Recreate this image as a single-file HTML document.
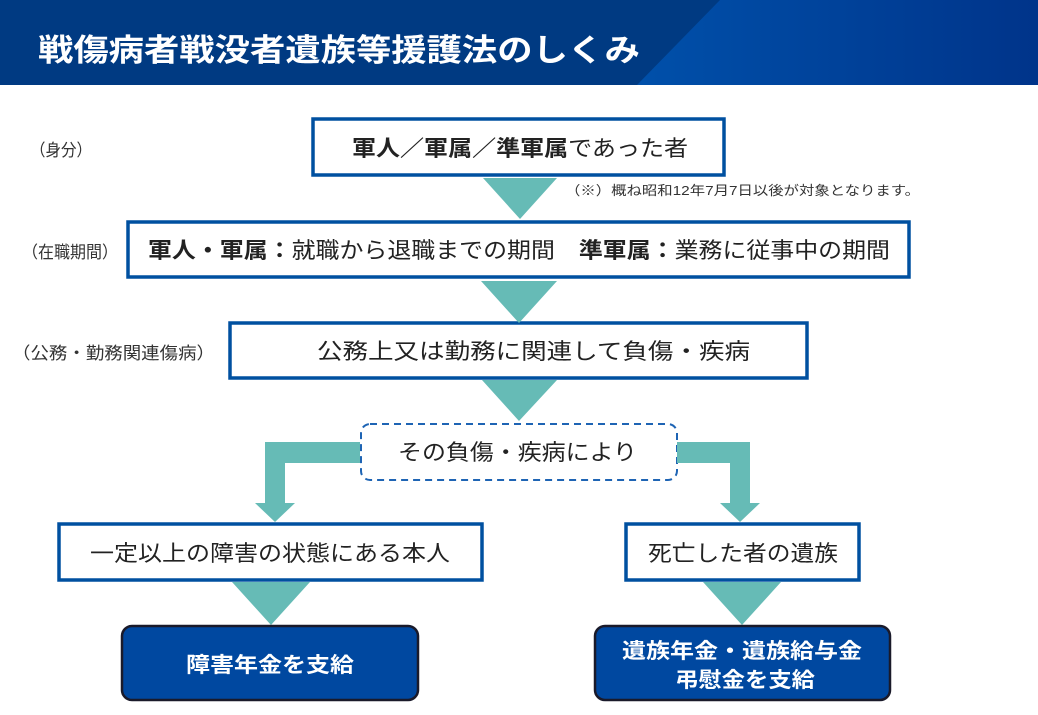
<!DOCTYPE html>
<html><head><meta charset="utf-8"><style>
html,body{margin:0;padding:0;background:#fff;}
svg{display:block;}
text{font-family:"Liberation Sans","Noto Sans CJK JP",sans-serif;}
</style></head><body>
<svg width="1038" height="715" viewBox="0 0 1038 715" xmlns="http://www.w3.org/2000/svg">
<defs>
<linearGradient id="g2" x1="0" y1="0" x2="1" y2="0">
<stop offset="0" stop-color="#0050aa"/><stop offset="1" stop-color="#00348a"/>
</linearGradient>
</defs>
<rect x="0" y="0" width="1038" height="85" fill="#003a82"/>
<polygon points="720,0 1038,0 1038,85 637,85" fill="url(#g2)"/>
<text x="38" y="61" font-size="31" font-weight="bold" fill="#fff" textLength="602" lengthAdjust="spacingAndGlyphs">戦傷病者戦没者遺族等援護法のしくみ</text>

<g font-size="17" fill="#333">
<text x="30" y="156" textLength="62" lengthAdjust="spacingAndGlyphs">（身分）</text>
<text x="22" y="258" textLength="96" lengthAdjust="spacingAndGlyphs">（在職期間）</text>
<text x="12" y="359" textLength="203" lengthAdjust="spacingAndGlyphs">（公務・勤務関連傷病）</text>
</g>

<g fill="#fff" stroke="#0050a0" stroke-width="3.5">
<rect x="313" y="119" width="411" height="56"/>
<rect x="128" y="222" width="781" height="55"/>
<rect x="230" y="323" width="577" height="55"/>
<rect x="59" y="524" width="423" height="56"/>
<rect x="626" y="524" width="233" height="56"/>
</g>
<rect x="361" y="424" width="316" height="56" rx="9" fill="#fff" stroke="#1e64b4" stroke-width="2" stroke-dasharray="7,5"/>

<g fill="#66bbb6">
<polygon points="483,178 557,178 520,219"/>
<polygon points="481,281 557,281 519,323"/>
<polygon points="482,380 557,380 519,421"/>
<polygon points="360,442 360,463 285,463 285,503 295,503 275,522 255,503 265,503 265,442"/>
<polygon points="677,442 677,463 730,463 730,503 720,503 740,522 760,503 750,503 750,442"/>
<polygon points="232,582 310,582 271,625"/>
<polygon points="703,582 781,582 742,625"/>
</g>

<text x="565" y="195" font-size="13" fill="#333" textLength="355" lengthAdjust="spacingAndGlyphs">（※）概ね昭和12年7月7日以後が対象となります。</text>

<g font-size="22" fill="#222">
<text x="352" y="156" textLength="336" lengthAdjust="spacingAndGlyphs"><tspan font-weight="bold">軍人／軍属／準軍属</tspan>であった者</text>
<text x="148" y="258" textLength="742" lengthAdjust="spacingAndGlyphs"><tspan font-weight="bold">軍人・軍属：</tspan>就職から退職までの期間　<tspan font-weight="bold">準軍属：</tspan>業務に従事中の期間</text>
<text x="317" y="359" textLength="433" lengthAdjust="spacingAndGlyphs">公務上又は勤務に関連して負傷・疾病</text>
<text x="398" y="460" textLength="239" lengthAdjust="spacingAndGlyphs">その負傷・疾病により</text>
<text x="90" y="561" textLength="360" lengthAdjust="spacingAndGlyphs">一定以上の障害の状態にある本人</text>
<text x="648" y="561" textLength="190" lengthAdjust="spacingAndGlyphs">死亡した者の遺族</text>
</g>

<rect x="122" y="626" width="296" height="74" rx="10" fill="#0048a0" stroke="#1a1a2a" stroke-width="2.5"/>
<rect x="595" y="626" width="295" height="74" rx="10" fill="#0048a0" stroke="#1a1a2a" stroke-width="2.5"/>
<g font-size="21" font-weight="bold" fill="#fff">
<text x="186" y="672" textLength="168" lengthAdjust="spacingAndGlyphs">障害年金を支給</text>
<text x="622" y="658" textLength="240" lengthAdjust="spacingAndGlyphs">遺族年金・遺族給与金</text>
<text x="675" y="687" textLength="140" lengthAdjust="spacingAndGlyphs">弔慰金を支給</text>
</g>
</svg>
</body></html>
